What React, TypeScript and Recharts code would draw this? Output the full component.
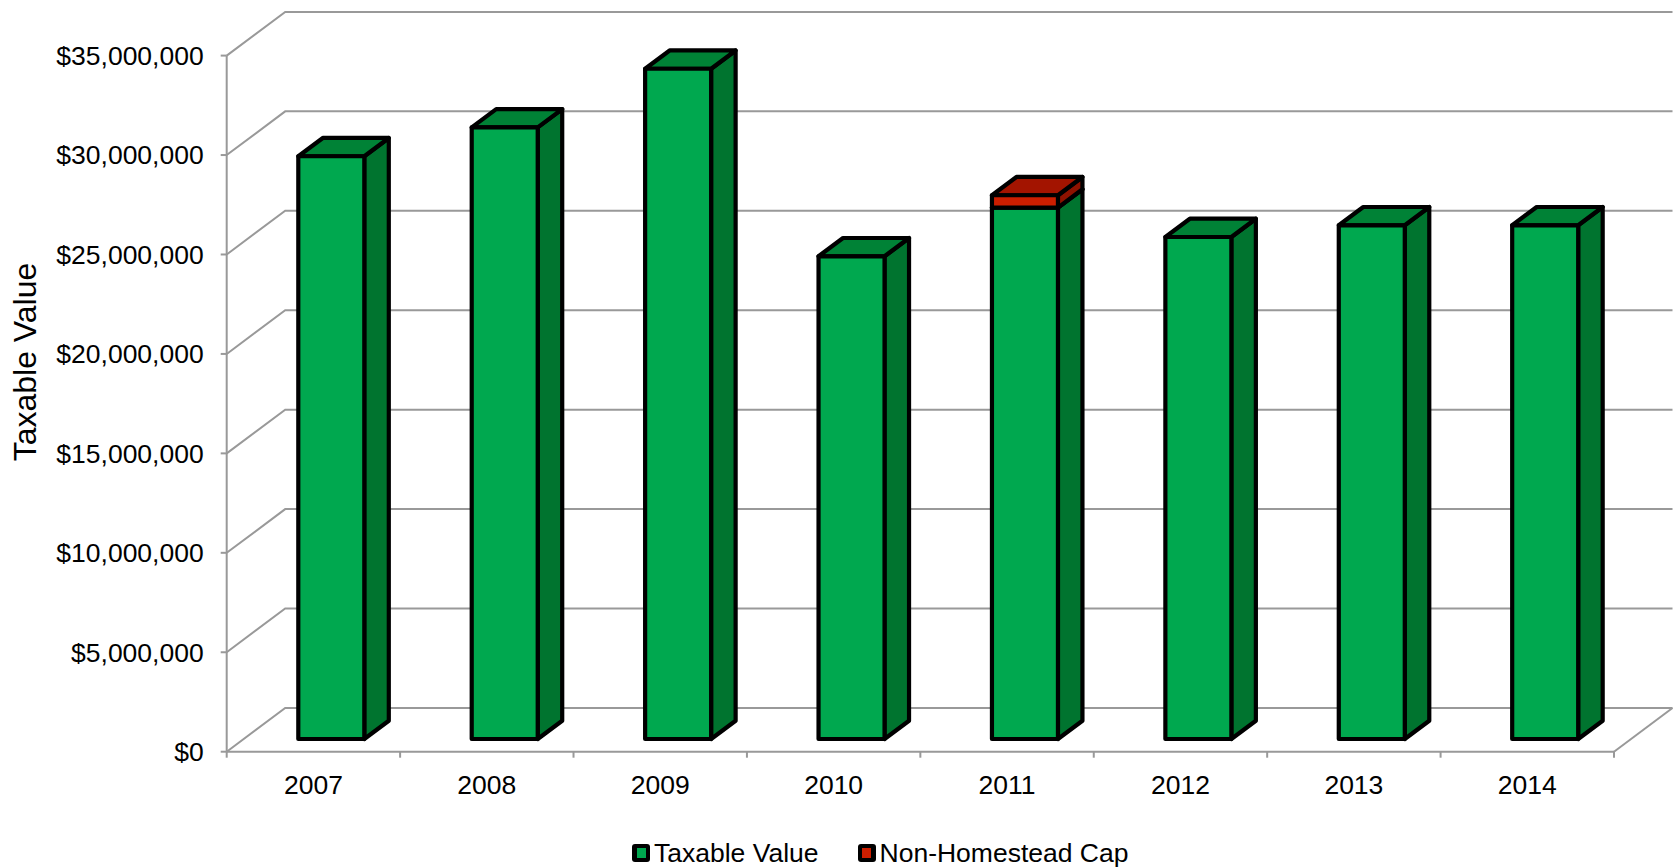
import { BarChart, Bar, XAxis, YAxis, CartesianGrid, Legend } from "recharts";

const YEARS = ["2007", "2008", "2009", "2010", "2011", "2012", "2013", "2014"];
const TAXABLE_VALUE = [29300000, 30750000, 33700000, 24270000, 26720000, 25240000, 25830000, 25830000];
const NON_HOMESTEAD_CAP = [0, 0, 0, 0, 620000, 0, 0, 0];
const Y_TICKS = [0, 5000000, 10000000, 15000000, 20000000, 25000000, 30000000, 35000000];
const SERIES_NAMES = ["Taxable Value", "Non-Homestead Cap"];

const data = YEARS.map((year, i) => ({
  year,
  taxable: TAXABLE_VALUE[i],
  cap: NON_HOMESTEAD_CAP[i],
}));

// layout
const W = 1677;
const H = 867;
const MARGIN = { top: 55.6, right: 63, bottom: 14, left: 0 };
const LEGEND_H = 30;
const XAXIS_H = 71.3;
const YAXIS_W = 226.7;
const PLOT_W = W - MARGIN.left - MARGIN.right - YAXIS_W;

// oblique 3d projection
const WALL_DX = 58.5;
const WALL_DY = 43.7;
const BAR_OX = 17.6;
const BAR_OY = 12.7;
const BAR_DX = 24.5;
const BAR_DY = 18.3;

const GRID = "#999999";
const FONT = "'Liberation Sans', Arial, Helvetica, sans-serif";

const GREEN = { front: "#00a84f", top: "#008236", side: "#00742f" };
const RED = { front: "#cc1e00", top: "#a31400", side: "#8e1200" };

const money = (v: number) => "$" + v.toLocaleString("en-US");

function prism(colors: { front: string; top: string; side: string }) {
  return (props: any) => {
    const { x, y, width, height } = props;
    if (!height || height <= 0) return <g />;
    const fx = x + BAR_OX;
    const fy = y - BAR_OY;
    const st = { stroke: "#000", strokeWidth: 4.2, strokeLinejoin: "round" as const };
    return (
      <g>
        <polygon
          points={`${fx + width},${fy} ${fx + width + BAR_DX},${fy - BAR_DY} ${fx + width + BAR_DX},${fy + height - BAR_DY} ${fx + width},${fy + height}`}
          fill={colors.side}
          {...st}
        />
        <polygon
          points={`${fx},${fy} ${fx + width},${fy} ${fx + width + BAR_DX},${fy - BAR_DY} ${fx + BAR_DX},${fy - BAR_DY}`}
          fill={colors.top}
          {...st}
        />
        <rect x={fx} y={fy} width={width} height={height} fill={colors.front} {...st} />
      </g>
    );
  };
}

const wallLine = (p: any) => {
  const { x1, y1, x2, index } = p;
  return (
    <path
      key={`wall-${index}-${y1}`}
      d={`M${x1},${y1} L${x1 + WALL_DX},${y1 - WALL_DY} L${x2 + WALL_DX},${y1 - WALL_DY}`}
      fill="none"
      stroke={GRID}
      strokeWidth={2}
    />
  );
};

function YearTick(props: any) {
  const { x, y, payload, index } = props;
  const bw = PLOT_W / YEARS.length;
  const last = index === YEARS.length - 1;
  return (
    <g>
      <line x1={x - bw / 2} y1={y} x2={x - bw / 2} y2={y + 6} stroke={GRID} strokeWidth={2} />
      {last && (
        <>
          <line x1={x + bw / 2} y1={y} x2={x + bw / 2} y2={y + 6} stroke={GRID} strokeWidth={2} />
          <line x1={x + bw / 2} y1={y} x2={x + bw / 2 + WALL_DX} y2={y - WALL_DY} stroke={GRID} strokeWidth={2} />
        </>
      )}
      <text x={x} y={y + 33} textAnchor="middle" dominantBaseline="central" fontSize={26.5} fill="#000" fontFamily={FONT}>
        {payload.value}
      </text>
    </g>
  );
}

function YTitle() {
  return (
    <text
      transform="translate(25,362) rotate(-90)"
      textAnchor="middle"
      dominantBaseline="central"
      fontSize={32}
      fill="#000"
      fontFamily={FONT}
    >
      Taxable Value
    </text>
  );
}

function LegendContent(props: any) {
  const payload = [...(props.payload || [])].sort(
    (a: any, b: any) => SERIES_NAMES.indexOf(a.value) - SERIES_NAMES.indexOf(b.value)
  );
  return (
    <div style={{ display: "flex", alignItems: "center", height: LEGEND_H, paddingLeft: 632, fontFamily: FONT }}>
      {payload.map((entry: any) => (
        <div key={entry.value} style={{ display: "flex", alignItems: "center", marginRight: 39 }}>
          <span
            style={{
              width: 18,
              height: 18,
              background: "#000",
              borderRadius: 3,
              display: "flex",
              alignItems: "center",
              justifyContent: "center",
            }}
          >
            <span style={{ width: 9, height: 10, background: entry.color }} />
          </span>
          <span style={{ marginLeft: 4, fontSize: 26.5, color: "#000", lineHeight: 1 }}>{entry.value}</span>
        </div>
      ))}
    </div>
  );
}

export default function App() {
  return (
    <div style={{ position: "absolute", left: 0, top: 0, width: W, height: H, background: "#fff", fontFamily: FONT }}>
      <BarChart width={W} height={H} data={data} margin={MARGIN} barSize={66}>
        <CartesianGrid vertical={false} horizontal={wallLine} />
        <XAxis
          dataKey="year"
          height={XAXIS_H}
          interval={0}
          tickLine={false}
          tickSize={0}
          tickMargin={0}
          axisLine={{ stroke: GRID, strokeWidth: 2 }}
          tick={<YearTick />}
        />
        <YAxis
          width={YAXIS_W}
          domain={[0, 35000000]}
          ticks={Y_TICKS}
          interval={0}
          tickFormatter={money}
          tickSize={6}
          tickMargin={17}
          axisLine={{ stroke: GRID, strokeWidth: 2 }}
          tickLine={{ stroke: GRID, strokeWidth: 2 }}
          tick={{ fill: "#000", fontSize: 26.5, fontFamily: FONT }}
          label={<YTitle />}
        />
        <Legend
          verticalAlign="bottom"
          height={LEGEND_H}
          content={<LegendContent />}
          wrapperStyle={{ left: 0, width: W, top: 838, bottom: "auto" }}
        />
        <Bar
          dataKey="taxable"
          name={SERIES_NAMES[0]}
          stackId="a"
          fill={GREEN.front}
          shape={prism(GREEN)}
          isAnimationActive={false}
        />
        <Bar
          dataKey="cap"
          name={SERIES_NAMES[1]}
          stackId="a"
          fill={RED.front}
          shape={prism(RED)}
          isAnimationActive={false}
        />
      </BarChart>
    </div>
  );
}
